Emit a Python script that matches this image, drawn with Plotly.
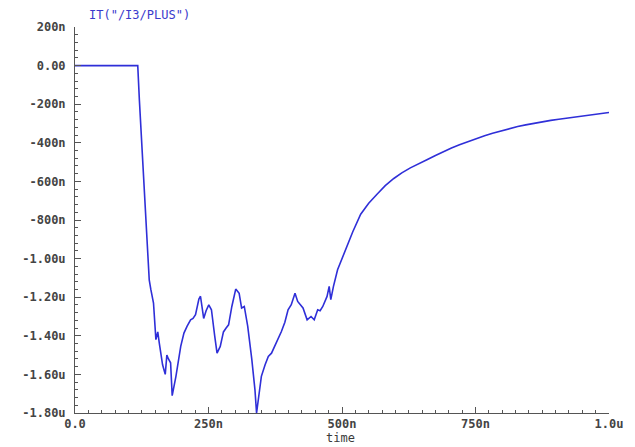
import plotly.graph_objects as go

# Transient current through /I3/PLUS (time in ns, current in uA)
time_ns = [0, 117.5, 120.6, 126.7, 133, 136, 139, 142, 147, 151.5, 155, 158, 164, 169,
           172, 175, 179, 182, 189, 198, 204, 210, 216.5, 221, 225.7, 232, 235, 241,
           245.5, 250.5, 255.5, 261.6, 266, 272, 278, 283, 287.6, 293.7, 301, 307.4,
           312, 317, 323.4, 331, 337, 340, 349, 356, 362, 368, 374, 380, 386.5, 393,
           399, 405, 412, 417, 422, 427, 434.7, 442, 448, 454.5, 459, 464, 472, 476,
           479, 484, 491.7, 500, 507, 520, 535, 550, 566, 581, 597, 612, 628, 643,
           659, 675, 690, 705, 720, 736, 751, 767, 782, 798, 813, 829, 844, 860,
           875, 891, 906, 922, 937, 953, 968, 984, 1000]
current_ua = [0.0, 0.0, -0.18, -0.49, -0.85, -0.98, -1.11, -1.16, -1.23, -1.42, -1.38,
              -1.44, -1.55, -1.60, -1.50, -1.52, -1.54, -1.71, -1.61, -1.455, -1.386,
              -1.35, -1.317, -1.31, -1.29, -1.21, -1.195, -1.31, -1.27, -1.24, -1.265,
              -1.40, -1.49, -1.455, -1.38, -1.36, -1.343, -1.248, -1.158, -1.18, -1.256,
              -1.248, -1.35, -1.52, -1.68, -1.80, -1.61, -1.55, -1.507, -1.49, -1.455,
              -1.42, -1.378, -1.33, -1.265, -1.239, -1.18, -1.222, -1.24, -1.256,
              -1.317, -1.30, -1.317, -1.265, -1.27, -1.248, -1.196, -1.144, -1.213,
              -1.144, -1.058, -1.00, -0.95, -0.862, -0.77, -0.713, -0.665, -0.622,
              -0.585, -0.556, -0.53, -0.508, -0.488, -0.466, -0.445, -0.427, -0.41,
              -0.393, -0.377, -0.363, -0.35, -0.338, -0.326, -0.316, -0.307, -0.298,
              -0.291, -0.284, -0.278, -0.272, -0.266, -0.26, -0.255, -0.249, -0.243]

x_tickvals = [0, 250, 500, 750, 1000]
x_ticktext = ["0.0", "250n", "500n", "750n", "1.0u"]
y_tickvals = [0.2, 0.0, -0.2, -0.4, -0.6, -0.8, -1.0, -1.2, -1.4, -1.6, -1.8]
y_ticktext = ["200n", "0.00", "-200n", "-400n", "-600n", "-800n",
              "-1.00u", "-1.20u", "-1.40u", "-1.60u", "-1.80u"]

label_font = dict(family="DejaVu Sans Mono", size=12, color="#444444", weight="bold")
axis_color = "#555555"

fig = go.Figure()
fig.add_trace(go.Scatter(
    x=time_ns, y=current_ua, mode="lines",
    line=dict(color="#2f2fd8", width=1.6),
    showlegend=False, hoverinfo="skip",
))

fig.update_layout(
    width=635, height=447,
    margin=dict(l=75, r=21, t=27, b=34),
    paper_bgcolor="white", plot_bgcolor="white",
    xaxis=dict(
        range=[0, 1000], showgrid=False, zeroline=False,
        showline=True, linecolor=axis_color, linewidth=1,
        tickmode="array", tickvals=x_tickvals, ticktext=x_ticktext,
        ticks="inside", ticklen=6, tickcolor=axis_color,
        tickfont=label_font,
        minor=dict(tickmode="linear", dtick=25, tick0=0, ticks="inside",
                   ticklen=3, tickcolor=axis_color, tickwidth=1),
    ),
    yaxis=dict(
        range=[-1.8, 0.2], showgrid=False, zeroline=False,
        showline=True, linecolor=axis_color, linewidth=1,
        tickmode="array", tickvals=y_tickvals, ticktext=y_ticktext,
        ticks="inside", ticklen=6, tickcolor=axis_color,
        tickfont=label_font, ticklabelstandoff=6,
        minor=dict(tickmode="linear", dtick=0.04, tick0=0, ticks="inside",
                   ticklen=3, tickcolor=axis_color, tickwidth=1),
    ),
    annotations=[
        dict(text='IT("/I3/PLUS")', xref="paper", yref="paper",
             x=0.022, y=1.031, xanchor="left", yanchor="middle", showarrow=False,
             font=dict(family="DejaVu Sans Mono", size=12, color="#3a3acc")),
        dict(text="time", xref="paper", yref="paper",
             x=0.497, y=-0.065, xanchor="center", yanchor="middle", showarrow=False,
             font=dict(family="DejaVu Sans Mono", size=12, color="#3a3a3a")),
    ],
)

fig.write_html("out.html")
